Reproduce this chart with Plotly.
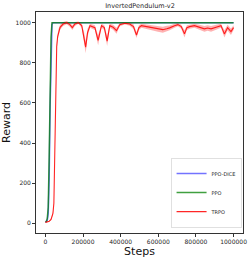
import plotly.graph_objects as go

title = "InvertedPendulum-v2"

ppo_dice_steps = [0, 5000, 10000, 15000, 20000, 25000, 30000, 35000, 40000, 1000000]
ppo_dice_reward = [5, 8, 15, 50, 220, 580, 880, 990, 1000, 1000]

ppo_steps = [0, 5000, 10000, 15000, 20000, 25000, 30000, 35000, 40000, 1000000]
ppo_reward = [8, 10, 25, 80, 330, 700, 930, 1000, 1000, 1000]

trpo_steps = [0, 10000, 20000, 30000, 40000, 45000, 50000, 55000, 60000, 65000,
              70000, 78000, 94000, 113000, 130000, 143000, 157000, 175000, 193000,
              205000, 214000, 224000, 237000, 263000, 280000, 298000, 313000,
              328000, 342000, 360000, 378000, 395000, 422000, 448000, 468000,
              484000, 497000, 510000, 537000, 563000, 580000, 598000, 624000,
              645000, 660000, 686000, 704000, 722000, 739000, 752000, 766000,
              792000, 818000, 845000, 862000, 880000, 907000, 933000, 951000,
              968000, 986000, 1000000]
trpo_reward = [5, 6, 10, 20, 50, 100, 350, 700, 880, 930,
               955, 977, 993, 1000, 990, 975, 993, 1000, 985,
               930, 878, 950, 985, 975, 912, 985, 975,
               908, 985, 977, 960, 990, 997, 993, 980,
               938, 975, 985, 980, 974, 970, 969, 965,
               970, 974, 985, 990, 980, 944, 975, 980,
               985, 977, 969, 973, 969, 977, 985, 944,
               975, 955, 975]
trpo_spread = [2, 2, 3, 5, 8, 10, 15, 15, 15, 15,
               15, 12, 10, 8, 10, 12, 10, 6, 10,
               25, 30, 20, 10, 12, 25, 10, 12,
               25, 10, 12, 15, 8, 6, 8, 12,
               15, 12, 10, 12, 14, 15, 15, 15,
               14, 12, 10, 8, 10, 18, 12, 10,
               10, 12, 14, 14, 14, 12, 10, 18,
               14, 16, 12]

x_ticks = [0, 200000, 400000, 600000, 800000, 1000000]
y_ticks = [0, 200, 400, 600, 800, 1000]

upper = [r + s for r, s in zip(trpo_reward, trpo_spread)]
lower = [r - s for r, s in zip(trpo_reward, trpo_spread)]

fig = go.Figure()
fig.add_trace(go.Scatter(x=trpo_steps, y=upper, mode="lines", line=dict(width=0),
                         showlegend=False, hoverinfo="skip"))
fig.add_trace(go.Scatter(x=trpo_steps, y=lower, mode="lines", line=dict(width=0),
                         fill="tonexty", fillcolor="rgba(255,0,0,0.3)",
                         showlegend=False, hoverinfo="skip"))
fig.add_trace(go.Scatter(x=ppo_dice_steps, y=ppo_dice_reward, mode="lines",
                         name="PPO-DICE", line=dict(color="rgba(0,0,255,0.55)", width=1.5)))
fig.add_trace(go.Scatter(x=ppo_steps, y=ppo_reward, mode="lines",
                         name="PPO", line=dict(color="rgba(0,128,0,0.75)", width=1.5)))
fig.add_trace(go.Scatter(x=trpo_steps, y=trpo_reward, mode="lines",
                         name="TRPO", line=dict(color="rgba(255,0,0,0.85)", width=1.1)))

axis_common = dict(showgrid=False, zeroline=False, showline=True, linecolor="#333",
                   linewidth=0.8, mirror=True, ticks="outside", ticklen=3,
                   tickwidth=0.8, tickcolor="#333", automargin=False,
                   tickfont=dict(family="DejaVu Sans", size=6, color="#262626"))

fig.update_layout(
    width=250, height=259,
    margin=dict(l=35.5, r=6.5, t=12, b=25.7),
    paper_bgcolor="white", plot_bgcolor="white",
    title=dict(text=title, x=0.56, xanchor="center", y=0.977, yanchor="middle",
               font=dict(family="DejaVu Sans", size=6.5, color="#262626"),
               automargin=False),
    xaxis=dict(range=[-50000, 1050000], tickvals=x_ticks,
               ticktext=[str(v) for v in x_ticks],
               title=dict(text="Steps", standoff=1,
                          font=dict(family="DejaVu Sans", size=11, color="#111")),
               **axis_common),
    yaxis=dict(range=[-48, 1053], tickvals=y_ticks,
               ticktext=[str(v) for v in y_ticks],
               title=dict(text="Reward", standoff=4,
                          font=dict(family="DejaVu Sans", size=11, color="#111")),
               **axis_common),
    legend=dict(x=0.995, y=0.025, xanchor="right", yanchor="bottom",
                bgcolor="white", bordercolor="#ccc", borderwidth=0.6,
                font=dict(family="DejaVu Sans", size=5, color="#262626"),
                itemwidth=30, tracegroupgap=0, traceorder="normal"),
    showlegend=True,
)

fig.write_html("out.html",
               config={"displayModeBar": False},
               post_script="document.body.style.margin='0';document.body.style.overflow='hidden';")
